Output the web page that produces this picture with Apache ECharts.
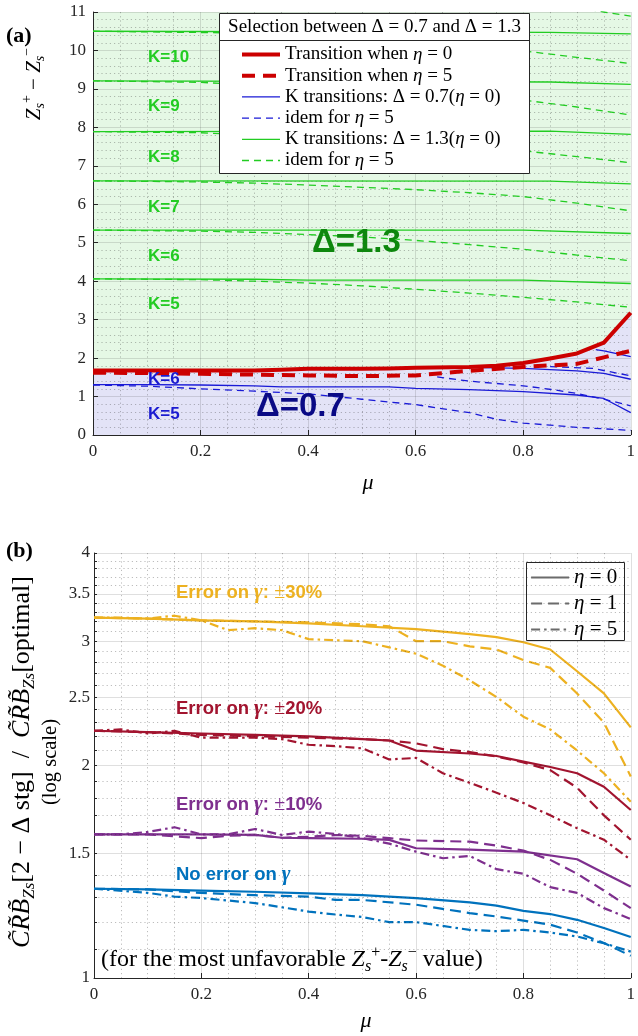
<!DOCTYPE html>
<html><head><meta charset="utf-8">
<script src="https://cdn.jsdelivr.net/npm/echarts@6/dist/echarts.min.js"></script>
<style>html,body{margin:0;padding:0;background:#fff}#c{width:638px;height:1036px}</style>
</head><body><div id="c"></div>
<script>
// ---------------- DATA ----------------
// common tick labels
const muTicks = [0, 0.2, 0.4, 0.6, 0.8, 1];
const zTicks = [0,1,2,3,4,5,6,7,8,9,10,11];
const ratioTicks = [1, 1.5, 2, 2.5, 3, 3.5, 4];

// Panel (a): transition between Delta=0.7 and Delta=1.3
const redSolid = [[0,1.68],[0.1,1.68],[0.2,1.68],[0.3,1.68],[0.35,1.70],[0.4,1.72],[0.5,1.72],[0.55,1.73],[0.6,1.75],[0.7,1.77],[0.75,1.80],[0.8,1.87],[0.85,1.99],[0.9,2.12],[0.95,2.40],[1,3.18]];
const redDashed = [[0,1.62],[0.1,1.61],[0.2,1.59],[0.3,1.57],[0.4,1.55],[0.5,1.53],[0.6,1.55],[0.7,1.67],[0.8,1.77],[0.9,1.85],[0.95,2.02],[1,2.19]];

const blueSolid = [
  [[0,1.31],[0.1,1.31],[0.2,1.30],[0.3,1.28],[0.35,1.25],[0.45,1.25],[0.55,1.25],[0.6,1.21],[0.7,1.18],[0.8,1.13],[0.9,1.04],[0.95,0.95],[1,0.58]],
  [[0.7,1.76],[0.8,1.73],[0.9,1.67],[0.95,1.60],[1,1.45]],
  [[0.935,2.22],[0.95,2.19],[1,2.04]]
];
const blueDashed = [
  [[0,1.30],[0.1,1.27],[0.2,1.20],[0.3,1.14],[0.4,1.07],[0.5,0.93],[0.6,0.79],[0.7,0.58],[0.75,0.41],[0.8,0.31],[0.9,0.20],[1,0.12]],
  [[0.64,1.51],[0.7,1.40],[0.8,1.28],[0.86,1.17],[0.9,1.08],[0.95,0.93],[1,0.76]],
  [[0.85,1.78],[0.93,1.73],[1,1.54]]
];
const greenSolid = [
  [[0,4.06],[0.3,4.05],[0.4,4.03],[0.8,4.03],[1,3.94]],
  [[0,5.33],[0.8,5.33],[1,5.24]],
  [[0,6.61],[0.85,6.60],[1,6.53]],
  [[0,7.89],[0.85,7.90],[1,7.82]],
  [[0,9.21],[0.85,9.18],[1,9.12]],
  [[0,10.50],[0.85,10.47],[1,10.43]]
];
const greenDashed = [
  [[0,4.06],[0.2,4.04],[0.3,4.00],[0.4,3.95],[0.5,3.88],[0.6,3.79],[0.7,3.69],[0.8,3.58],[0.9,3.46],[1,3.32]],
  [[0,5.33],[0.2,5.30],[0.3,5.27],[0.4,5.21],[0.5,5.15],[0.6,5.06],[0.7,4.95],[0.8,4.83],[0.9,4.68],[1,4.53]],
  [[0,6.61],[0.2,6.58],[0.3,6.55],[0.4,6.50],[0.5,6.44],[0.6,6.38],[0.7,6.30],[0.8,6.20],[0.9,6.03],[1,5.83]],
  [[0,7.89],[0.2,7.86],[0.3,7.80],[0.4,7.73],[0.5,7.66],[0.6,7.58],[0.7,7.49],[0.8,7.39],[0.9,7.24],[1,7.08]],
  [[0,9.21],[0.2,9.17],[0.3,9.10],[0.5,8.95],[0.6,8.88],[0.7,8.80],[0.8,8.71],[0.9,8.53],[1,8.32]],
  [[0,10.50],[0.3,10.45],[0.5,10.30],[0.7,10.10],[0.8,9.99],[0.9,9.82],[1,9.66]],
  [[0.9,11.12],[0.95,11.00],[1,10.89]]
];

// Panel (b): CRB ratio (log scale)
const yel0 = [[0,3.24],[0.1,3.23],[0.2,3.21],[0.3,3.20],[0.4,3.18],[0.5,3.15],[0.6,3.12],[0.7,3.07],[0.75,3.04],[0.8,2.99],[0.85,2.92],[0.9,2.72],[0.95,2.53],[1,2.265]];
const yel1 = [[0,3.24],[0.1,3.23],[0.2,3.21],[0.3,3.20],[0.4,3.19],[0.5,3.17],[0.55,3.15],[0.6,3.00],[0.65,3.00],[0.7,2.95],[0.75,2.92],[0.8,2.82],[0.85,2.75],[0.9,2.53],[0.95,2.30],[1,1.93]];
const yel5 = [[0,3.24],[0.05,3.24],[0.1,3.23],[0.15,3.26],[0.2,3.21],[0.25,3.11],[0.3,3.13],[0.35,3.11],[0.4,3.02],[0.45,3.01],[0.5,3.00],[0.55,2.94],[0.6,2.88],[0.65,2.77],[0.7,2.64],[0.75,2.50],[0.8,2.345],[0.85,2.25],[0.9,2.10],[0.95,1.95],[1,1.777]];
const red0 = [[0,2.24],[0.1,2.23],[0.2,2.22],[0.3,2.21],[0.4,2.20],[0.5,2.18],[0.55,2.17],[0.6,2.10],[0.7,2.08],[0.75,2.063],[0.8,2.025],[0.85,1.99],[0.9,1.95],[0.95,1.866],[1,1.73]];
const red1 = [[0,2.24],[0.1,2.23],[0.2,2.21],[0.3,2.20],[0.4,2.19],[0.5,2.18],[0.55,2.17],[0.6,2.15],[0.65,2.11],[0.7,2.09],[0.75,2.06],[0.8,2.02],[0.85,1.97],[0.9,1.86],[0.95,1.70],[1,1.57]];
const red5 = [[0,2.24],[0.05,2.25],[0.1,2.22],[0.15,2.24],[0.2,2.19],[0.3,2.19],[0.35,2.18],[0.4,2.14],[0.45,2.13],[0.5,2.115],[0.55,2.04],[0.6,2.05],[0.65,1.95],[0.7,1.89],[0.75,1.83],[0.8,1.77],[0.85,1.70],[0.9,1.63],[0.95,1.57],[1,1.47]];
const pur0 = [[0,1.598],[0.1,1.598],[0.2,1.598],[0.3,1.595],[0.35,1.58],[0.4,1.578],[0.5,1.575],[0.55,1.569],[0.6,1.527],[0.7,1.52],[0.8,1.51],[0.9,1.473],[0.95,1.408],[1,1.348]];
const pur1 = [[0,1.598],[0.1,1.598],[0.2,1.578],[0.25,1.59],[0.3,1.595],[0.35,1.58],[0.4,1.585],[0.45,1.594],[0.5,1.59],[0.55,1.578],[0.6,1.566],[0.7,1.56],[0.75,1.54],[0.8,1.515],[0.85,1.47],[0.9,1.405],[0.95,1.33],[1,1.256]];
const pur5 = [[0,1.598],[0.05,1.598],[0.1,1.61],[0.15,1.635],[0.2,1.598],[0.25,1.598],[0.3,1.626],[0.35,1.595],[0.4,1.612],[0.45,1.60],[0.5,1.578],[0.55,1.55],[0.6,1.51],[0.65,1.478],[0.7,1.489],[0.75,1.426],[0.8,1.405],[0.85,1.345],[0.9,1.32],[0.95,1.256],[1,1.212]];
const blu0 = [[0,1.338],[0.1,1.335],[0.2,1.33],[0.3,1.325],[0.4,1.318],[0.5,1.31],[0.6,1.298],[0.7,1.28],[0.75,1.266],[0.8,1.245],[0.85,1.232],[0.9,1.209],[0.95,1.177],[1,1.143]];
const blu1 = [[0,1.338],[0.1,1.335],[0.2,1.32],[0.3,1.31],[0.4,1.304],[0.45,1.29],[0.5,1.29],[0.6,1.27],[0.7,1.236],[0.75,1.222],[0.8,1.206],[0.85,1.19],[0.9,1.16],[0.95,1.121],[1,1.075]];
const blu5 = [[0,1.338],[0.1,1.32],[0.15,1.304],[0.2,1.298],[0.3,1.277],[0.4,1.242],[0.45,1.23],[0.5,1.22],[0.55,1.20],[0.6,1.20],[0.7,1.17],[0.75,1.165],[0.8,1.17],[0.85,1.16],[0.9,1.145],[0.95,1.12],[1,1.09]];

// ---------------- STYLE ----------------
const SERIF = "'Liberation Serif','DejaVu Serif',serif";
const SANS = "'Liberation Sans',Arial,sans-serif";
const AX = '#262626';
const GRIDC = 'rgba(38,38,38,0.15)';
const MINC = 'rgba(38,38,38,0.30)';
const DOT = [1.2, 3];
const RED = '#cc0000', BLUE = '#1a1ad6', GREEN = '#22cc22';
const C_Y = '#EDB120', C_R = '#A2142F', C_P = '#7E2F8E', C_B = '#0072BD';
const DASH_THIN = [7, 5], DASH_RED = [13, 8], DASH_B = [11, 6], DASHDOT_B = [9, 4, 2.5, 4];

const minorRatio = [];
for (let i = 11; i < 40; i++) { if (i % 5 !== 0) minorRatio.push(i / 10); }

const chart = echarts.init(document.getElementById('c'));

function mkLine(name, data, color, width, dash, gi, z) {
  return { type: 'line', name: name, data: data, xAxisIndex: gi, yAxisIndex: gi,
    showSymbol: false, symbol: 'none', clip: true, silent: true, animation: false,
    lineStyle: { color: color, width: width, type: dash || 'solid', cap: 'butt', join: 'round' },
    itemStyle: { color: color }, z: z || 2 };
}

const series = [];
// blue region under the eta=0 transition
series.push({ type: 'line', name: 'fill', data: redSolid, xAxisIndex: 0, yAxisIndex: 0, showSymbol: false, symbol: 'none',
  lineStyle: { width: 0 }, areaStyle: { color: '#e3e3f7', opacity: 1 }, z: -1, silent: true, animation: false });
greenSolid.forEach(d => series.push(mkLine('K transitions: Δ = 1.3(η = 0)', d, GREEN, 1.3, 'solid', 0, 2)));
greenDashed.forEach(d => series.push(mkLine('idem for η = 5 ', d, GREEN, 1.3, DASH_THIN, 0, 2)));
blueSolid.forEach(d => series.push(mkLine('K transitions: Δ = 0.7(η = 0)', d, BLUE, 1.3, 'solid', 0, 2)));
blueDashed.forEach(d => series.push(mkLine('idem for η = 5', d, BLUE, 1.3, DASH_THIN, 0, 2)));
series.push(mkLine('Transition when η = 0', redSolid, RED, 4, 'solid', 0, 3));
series.push(mkLine('Transition when η = 5', redDashed, RED, 4, DASH_RED, 0, 3));

// panel (b) grid lines for the log axis
series.push({ type: 'line', name: 'gridB', data: [], xAxisIndex: 1, yAxisIndex: 1, z: 1, silent: true, animation: false,
  markLine: { silent: true, symbol: ['none', 'none'], label: { show: false }, animation: false,
    data: ratioTicks.slice(1).map(v => ({ yAxis: v, lineStyle: { color: GRIDC, type: 'solid', width: 1 } }))
      .concat(minorRatio.map(v => ({ yAxis: v, lineStyle: { color: MINC, type: DOT, width: 1 } }))) } });

[[yel0, yel1, yel5, C_Y], [red0, red1, red5, C_R], [pur0, pur1, pur5, C_P], [blu0, blu1, blu5, C_B]].forEach(g => {
  series.push(mkLine('η = 0', g[0], g[3], 2.2, 'solid', 1, 2));
  series.push(mkLine('η = 1', g[1], g[3], 2.2, DASH_B, 1, 2));
  series.push(mkLine('η = 5', g[2], g[3], 2.2, DASHDOT_B, 1, 2));
});

const xLabelFmt = v => (v === 0 ? '0' : v === 1 ? '1' : v.toFixed(1));
function xAxisCfg(gi) {
  return { gridIndex: gi, type: 'value', min: 0, max: 1, interval: 0.2,
    axisLine: { onZero: false, lineStyle: { color: AX, width: 1 } },
    axisTick: { inside: true, length: 5, lineStyle: { color: AX } },
    axisLabel: { margin: 8, fontFamily: SERIF, fontSize: 17, color: AX, customValues: muTicks, formatter: xLabelFmt },
    splitLine: { show: true, lineStyle: { color: GRIDC, width: 1 } },
    minorTick: { show: false, splitNumber: 4 },
    minorSplitLine: { show: true, lineStyle: { color: MINC, type: DOT, width: 1 } } };
}

const legendItemsA = [
  { name: 'Transition when η = 0', lineStyle: { width: 4 } },
  { name: 'Transition when η = 5', lineStyle: { width: 4 } },
  { name: 'K transitions: Δ = 0.7(η = 0)', lineStyle: { width: 1.3 } },
  { name: 'idem for η = 5', lineStyle: { width: 1.3 } },
  { name: 'K transitions: Δ = 1.3(η = 0)', lineStyle: { width: 1.3 } },
  { name: 'idem for η = 5 ', lineStyle: { width: 1.3 } }
];
const legendFmt = n => n.trim().replace(/η/g, '{i|η}');

const txt = (text, x, y, font, fill) => ({ type: 'text', x: x, y: y, z: 6, silent: true,
  style: { text: text, font: font, fill: fill, align: 'left', textAlign: 'left', verticalAlign: 'middle', textVerticalAlign: 'middle' } });

const kFont = 'bold 17px ' + SANS;
const errRich = col => ({
  b: { fontFamily: SANS, fontWeight: 'bold', fontSize: 18.5, fill: col },
  g: { fontFamily: SERIF, fontStyle: 'italic', fontWeight: 'bold', fontSize: 21, fill: col },
  p: { fontFamily: SERIF, fontSize: 20, fill: col }
});
const mathRich = (size) => ({
  z: { fontFamily: SERIF, fontStyle: 'italic', fontSize: size, fill: '#000', lineHeight: size + 6 },
  c: { fontFamily: SERIF, fontStyle: 'italic', fontSize: size, fill: '#000', lineHeight: size + 6 },
  s: { fontFamily: SERIF, fontStyle: 'italic', fontSize: Math.round(size * 0.65), fill: '#000', verticalAlign: 'bottom', lineHeight: size + 6 },
  u: { fontFamily: SERIF, fontSize: Math.round(size * 0.65), fill: '#000', verticalAlign: 'top', lineHeight: size + 6 },
  t: { fontFamily: SERIF, fontSize: size, fill: '#000', lineHeight: size + 6 },
  l: { fontFamily: SERIF, fontSize: 20.5, fill: '#000', lineHeight: 25 }
});

const option = {
  backgroundColor: '#ffffff',
  animation: false,
  grid: [
    { left: 93, top: 12, width: 541, height: 423, show: true, backgroundColor: '#e5f8e5', borderWidth: 0, z: -2 },
    { left: 94, top: 553, width: 540, height: 425, show: false }
  ],
  xAxis: [xAxisCfg(0), xAxisCfg(1)],
  yAxis: [
    { gridIndex: 0, type: 'value', min: 0, max: 11, interval: 1,
      axisLine: { show: true, onZero: false, lineStyle: { color: AX, width: 1 } },
      axisTick: { show: true, inside: true, length: 5, lineStyle: { color: AX } },
      axisLabel: { margin: 7, fontFamily: SERIF, fontSize: 17, color: AX, customValues: zTicks },
      splitLine: { show: true, lineStyle: { color: GRIDC, width: 1 } },
      minorTick: { show: false, splitNumber: 5 },
      minorSplitLine: { show: true, lineStyle: { color: MINC, type: DOT, width: 1 } } },
    { gridIndex: 1, type: 'log', logBase: 10, min: 1, max: 4,
      axisLine: { show: true, onZero: false, lineStyle: { color: AX, width: 1 } },
      axisTick: { show: true, inside: true, length: 3, customValues: ratioTicks.concat(minorRatio), lineStyle: { color: AX } },
      axisLabel: { margin: 4, fontFamily: SERIF, fontSize: 17, color: AX, customValues: ratioTicks, formatter: v => String(+(+v).toFixed(2)) },
      splitLine: { show: false }, minorTick: { show: false }, minorSplitLine: { show: false } }
  ],
  legend: [
    { data: legendItemsA, orient: 'vertical', left: 240, top: 45, padding: 0, itemGap: 2.2, itemWidth: 38, itemHeight: 14,
      selectedMode: false, z: 10, formatter: legendFmt, itemStyle: { opacity: 0 },
      textStyle: { fontFamily: SERIF, fontSize: 19, color: '#000', lineHeight: 16, rich: { i: { fontFamily: SERIF, fontStyle: 'italic', fontSize: 19, lineHeight: 16 } } } },
    { data: ['η = 0', 'η = 1', 'η = 5'].map(n => ({ name: n, lineStyle: { color: '#6b6b6b', width: 2.2 } })),
      orient: 'vertical', left: 530, top: 567, padding: 0, itemGap: 5, itemWidth: 38, itemHeight: 20,
      selectedMode: false, z: 10, formatter: legendFmt, itemStyle: { opacity: 0 },
      textStyle: { fontFamily: SERIF, fontSize: 21, color: '#000', lineHeight: 20, rich: { i: { fontFamily: SERIF, fontStyle: 'italic', fontSize: 21, lineHeight: 20 } } } }
  ],
  graphic: [
    // legend box (a)
    { type: 'rect', z: 4, silent: true, shape: { x: 219.5, y: 13.5, width: 310, height: 160 }, style: { fill: '#fff', stroke: AX, lineWidth: 1 } },
    { type: 'line', z: 4, silent: true, shape: { x1: 219.5, y1: 40.5, x2: 529.5, y2: 40.5 }, style: { stroke: AX, lineWidth: 1 } },
    { type: 'text', z: 6, silent: true, x: 374.5, y: 27.5, style: { text: 'Selection between Δ = 0.7 and Δ = 1.3', font: '19px ' + SERIF, fill: '#000', align: 'center', textAlign: 'center', verticalAlign: 'middle', textVerticalAlign: 'middle' } },
    // legend box (b)
    { type: 'rect', z: 4, silent: true, shape: { x: 526.5, y: 562.5, width: 98, height: 78 }, style: { fill: '#fff', stroke: AX, lineWidth: 1 } },
    // panel letters
    txt('(a)', 6, 36, 'bold 22px ' + SERIF, '#000'),
    txt('(b)', 6, 551, 'bold 22px ' + SERIF, '#000'),
    // axis titles
    { type: 'text', z: 6, silent: true, x: 368, y: 483, style: { text: 'μ', font: 'italic 22px ' + SERIF, fill: '#000', align: 'center', textAlign: 'center', verticalAlign: 'middle', textVerticalAlign: 'middle' } },
    { type: 'text', z: 6, silent: true, x: 366, y: 1021, style: { text: 'μ', font: 'italic 22px ' + SERIF, fill: '#000', align: 'center', textAlign: 'center', verticalAlign: 'middle', textVerticalAlign: 'middle' } },
    { type: 'text', z: 6, silent: true, x: 34, y: 84, rotation: Math.PI / 2,
      style: { text: '{z|Z}{s|s}{u|+}{t| − }{z|Z}{s|s}{u|−}', font: '21px ' + SERIF, fill: '#000', align: 'center', textAlign: 'center', verticalAlign: 'middle', textVerticalAlign: 'middle', rich: mathRich(21) } },
    { type: 'text', z: 6, silent: true, x: 35, y: 762, rotation: Math.PI / 2,
      style: { text: '{c|C̃R̃B̃}{s|Zs}{t|[2 − Δ stg]  /  }{c|C̃R̃B̃}{s|Zs}{t|[optimal]}\n{l|(log scale)}', font: '26px ' + SERIF, fill: '#000', align: 'center', textAlign: 'center', verticalAlign: 'middle', textVerticalAlign: 'middle', rich: mathRich(26) } },
    // panel (a) annotations
    txt('K=10', 148, 57, kFont, GREEN), txt('K=9', 148, 106, kFont, GREEN), txt('K=8', 148, 157, kFont, GREEN),
    txt('K=7', 148, 207, kFont, GREEN), txt('K=6', 148, 256, kFont, GREEN), txt('K=5', 148, 304, kFont, GREEN),
    txt('K=6', 148, 379, kFont, '#1a1ad0'), txt('K=5', 148, 414, kFont, '#1a1ad0'),
    txt('Δ=1.3', 312, 243, 'bold 33px ' + SANS, '#0e870e'),
    txt('Δ=0.7', 256, 407, 'bold 33px ' + SANS, '#0a0a85'),
    // panel (b) annotations
    { type: 'text', z: 6, silent: true, x: 176, y: 593, style: { text: '{b|Error on }{g|γ}{b|: }{p|±}{b|30%}', align: 'left', textAlign: 'left', verticalAlign: 'middle', textVerticalAlign: 'middle', rich: errRich(C_Y) } },
    { type: 'text', z: 6, silent: true, x: 176, y: 709, style: { text: '{b|Error on }{g|γ}{b|: }{p|±}{b|20%}', align: 'left', textAlign: 'left', verticalAlign: 'middle', textVerticalAlign: 'middle', rich: errRich(C_R) } },
    { type: 'text', z: 6, silent: true, x: 176, y: 805, style: { text: '{b|Error on }{g|γ}{b|: }{p|±}{b|10%}', align: 'left', textAlign: 'left', verticalAlign: 'middle', textVerticalAlign: 'middle', rich: errRich(C_P) } },
    { type: 'text', z: 6, silent: true, x: 176, y: 875, style: { text: '{b|No error on }{g|γ}', align: 'left', textAlign: 'left', verticalAlign: 'middle', textVerticalAlign: 'middle', rich: errRich(C_B) } },
    { type: 'text', z: 6, silent: true, x: 101, y: 960, style: { text: '{t|(for the most unfavorable }{z|Z}{s|s}{u|+}{t|-}{z|Z}{s|s}{u|−}{t| value)}', align: 'left', textAlign: 'left', verticalAlign: 'middle', textVerticalAlign: 'middle', rich: mathRich(24) } }
  ],
  series: series
};
chart.setOption(option);
</script></body></html>
